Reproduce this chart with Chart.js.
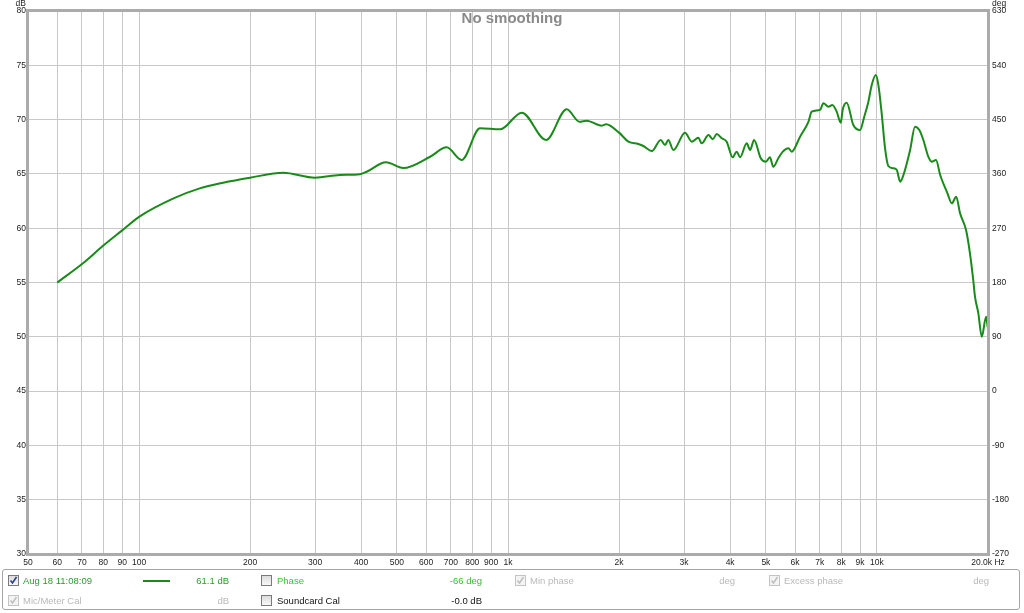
<!DOCTYPE html>
<html><head><meta charset="utf-8">
<script src="https://cdn.jsdelivr.net/npm/chart.js@4.4.1/dist/chart.umd.min.js"></script>
<style>
html,body{margin:0;padding:0;background:#fff;}
#wrap{position:relative;width:1024px;height:613px;overflow:hidden;font-family:"Liberation Sans",Arial,sans-serif;}
canvas{position:absolute;left:0;top:0;}
#legend{position:absolute;left:2px;top:569px;width:1018px;height:41px;border:1px solid #a5a5a5;border-radius:3px;box-sizing:border-box;}
.t{position:absolute;font-size:9.5px;line-height:12px;white-space:nowrap;}
.cb{position:absolute;width:11px;height:11px;box-sizing:border-box;border:1px solid #7a7a7a;background:linear-gradient(#dcdcdc,#f8f8f8);}
.cb.dis{border-color:#c4c4c4;background:#f4f4f4;}
.cb svg{position:absolute;left:0;top:0;}
</style></head>
<body>
<div id="wrap">
<canvas id="c" width="1024" height="613"></canvas>
<div id="legend"></div>
<!-- row 1 -->
<div class="cb" style="left:8px;top:575px"><svg width="9" height="9"><polyline points="1.5,4.5 3.5,7 7.5,1" fill="none" stroke="#2a3f8f" stroke-width="1.6"/></svg></div>
<div class="t" style="left:23px;top:575px;color:#2f9a2f">Aug 18 11:08:09</div>
<div style="position:absolute;left:143px;top:580px;width:27px;height:2px;background:#1a8a1a"></div>
<div class="t" style="right:795px;top:575px;color:#2f9a2f">61.1 dB</div>
<div class="cb" style="left:261px;top:575px"></div>
<div class="t" style="left:277px;top:575px;color:#3cc13c">Phase</div>
<div class="t" style="right:542px;top:575px;color:#3cb83c">-66 deg</div>
<div class="cb dis" style="left:515px;top:575px"><svg width="9" height="9"><polyline points="1.5,4.5 3.5,7 7.5,1" fill="none" stroke="#bdbdbd" stroke-width="1.4"/></svg></div>
<div class="t" style="left:530px;top:575px;color:#b9b9b9">Min phase</div>
<div class="t" style="right:289px;top:575px;color:#b9b9b9">deg</div>
<div class="cb dis" style="left:769px;top:575px"><svg width="9" height="9"><polyline points="1.5,4.5 3.5,7 7.5,1" fill="none" stroke="#bdbdbd" stroke-width="1.4"/></svg></div>
<div class="t" style="left:784px;top:575px;color:#b9b9b9">Excess phase</div>
<div class="t" style="right:35px;top:575px;color:#b9b9b9">deg</div>
<!-- row 2 -->
<div class="cb dis" style="left:8px;top:595px"><svg width="9" height="9"><polyline points="1.5,4.5 3.5,7 7.5,1" fill="none" stroke="#bdbdbd" stroke-width="1.4"/></svg></div>
<div class="t" style="left:23px;top:595px;color:#b9b9b9">Mic/Meter Cal</div>
<div class="t" style="right:795px;top:595px;color:#b9b9b9">dB</div>
<div class="cb" style="left:261px;top:595px"></div>
<div class="t" style="left:277px;top:595px;color:#111">Soundcard Cal</div>
<div class="t" style="right:542px;top:595px;color:#111">-0.0 dB</div>
</div>
<script>
// ---- data ----
const freqHz = [60, 70.6, 80, 90, 100, 124, 146, 169, 200, 246, 300, 350, 397, 414, 467, 520, 615, 682, 749, 840, 952, 1090, 1268, 1443, 1562, 1633, 1796, 1845, 2000, 2120, 2255, 2328, 2454, 2594, 2665, 2720, 2807, 3019, 3148, 3280, 3350, 3494, 3590, 3680, 3794, 3915, 4062, 4166, 4256, 4437, 4531, 4645, 4842, 5000, 5127, 5236, 5404, 5557, 5756, 5875, 6190, 6520, 6657, 7010, 7160, 7390, 7570, 7780, 7980, 8080, 8280, 8630, 9000, 9240, 9480, 9680, 9930, 10090, 10300, 10520, 10740, 11080, 11320, 11560, 11800, 12300, 12680, 13030, 13360, 13780, 14080, 14460, 14840, 15530, 15960, 16400, 16800, 17440, 17870, 18240, 18440, 18830, 19240, 19760, 19960];
const levelDb = [55.0, 56.8, 58.4, 59.8, 61.05, 62.75, 63.67, 64.19, 64.65, 65.11, 64.65, 64.9, 64.97, 65.2, 66.07, 65.54, 66.58, 67.45, 66.28, 69.2, 69.1, 70.64, 68.12, 70.95, 69.8, 69.9, 69.44, 69.57, 68.8, 67.97, 67.75, 67.57, 67.11, 68.12, 67.66, 68.12, 67.2, 68.8, 67.97, 68.33, 67.82, 68.58, 68.2, 68.67, 68.28, 67.97, 66.53, 67.05, 66.53, 67.82, 67.2, 68.12, 66.44, 66.12, 66.53, 65.66, 66.44, 67.05, 67.36, 67.05, 68.43, 69.8, 70.73, 70.9, 71.5, 71.19, 71.35, 70.73, 69.72, 70.95, 71.56, 69.5, 69.04, 70.27, 71.65, 73.19, 74.1, 73.19, 70.58, 67.36, 65.73, 65.52, 65.36, 64.28, 64.9, 67.2, 69.35, 69.04, 68.12, 66.58, 66.12, 66.28, 64.9, 63.21, 62.29, 62.9, 61.37, 59.83, 57.69, 55.23, 53.69, 52.16, 50.0, 51.85, 50.9];
const xTickValues = [50,60,70,80,90,100,200,300,400,500,600,700,800,900,1000,2000,3000,4000,5000,6000,7000,8000,9000,10000,20000];
const xTickLabels = ['50','60','70','80','90','100','200','300','400','500','600','700','800','900','1k','2k','3k','4k','5k','6k','7k','8k','9k','10k','20.0k Hz'];
const dbMin = 30, dbMax = 80, dbStep = 5;
const degMin = -270, degMax = 630, degStep = 90;
const chartTitle = 'No smoothing';

const FONT = '"Liberation Sans", Arial, sans-serif';
const TICK = 8.5;

const decorPlugin = {
  id: 'decor',
  afterDatasetsDraw(chart) {
    const {ctx, chartArea: a} = chart;
    ctx.save();
    ctx.strokeStyle = '#ababab';
    ctx.lineWidth = 3;
    ctx.strokeRect(a.left - 0.5, a.top - 0.5, a.right - a.left + 1, a.bottom - a.top + 1);
    ctx.font = 'bold 15px ' + FONT;
    ctx.fillStyle = '#8a8a8a';
    ctx.textAlign = 'center';
    ctx.textBaseline = 'middle';
    ctx.fillText(chartTitle, 512, 19);
    ctx.font = TICK + 'px ' + FONT;
    ctx.fillStyle = '#222';
    ctx.textAlign = 'right';
    ctx.fillText('dB', 26, 4);
    ctx.textAlign = 'left';
    ctx.fillText('deg', 992, 4);
    ctx.restore();
  }
};

new Chart(document.getElementById('c'), {
  type: 'line',
  data: {
    datasets: [{
      data: freqHz.map((f, i) => ({x: f, y: levelDb[i]})),
      borderColor: '#1a8a1a',
      borderWidth: 2,
      pointRadius: 0,
      cubicInterpolationMode: 'monotone',
      fill: false,
      yAxisID: 'y'
    }]
  },
  options: {
    responsive: false,
    animation: false,
    devicePixelRatio: 1,
    layout: {padding: {top: 11, bottom: 44, left: 0, right: 0}},
    plugins: {legend: {display: false}, tooltip: {enabled: false}, title: {display: false}},
    scales: {
      x: {
        type: 'logarithmic',
        min: 50, max: 20000,
        afterBuildTicks: s => { s.ticks = xTickValues.map(v => ({value: v})); },
        afterFit: s => { s.height = 15; },
        ticks: {
          autoSkip: false, maxRotation: 0, padding: 4, color: '#222',
          font: {family: FONT, size: TICK},
          callback: (v, i) => xTickLabels[i]
        },
        grid: {color: '#c8c8c8', lineWidth: 1, drawTicks: false},
        border: {display: false}
      },
      y: {
        position: 'left',
        min: dbMin, max: dbMax,
        afterFit: s => { s.width = 28; },
        ticks: {stepSize: dbStep, padding: 2, color: '#222', font: {family: FONT, size: TICK}},
        grid: {color: '#c8c8c8', lineWidth: 1, drawTicks: false},
        border: {display: false}
      },
      y2: {
        position: 'right',
        min: degMin, max: degMax,
        afterFit: s => { s.width = 36; },
        ticks: {stepSize: degStep, padding: 4, color: '#222', font: {family: FONT, size: TICK}},
        grid: {display: false, drawTicks: false},
        border: {display: false}
      }
    }
  },
  plugins: [decorPlugin]
});
</script>
</body></html>
